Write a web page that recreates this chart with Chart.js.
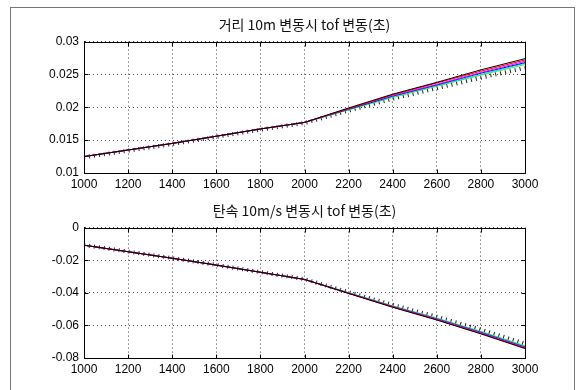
<!DOCTYPE html>
<html>
<head>
<meta charset="utf-8">
<script src="https://cdn.jsdelivr.net/npm/chart.js@4/dist/chart.umd.min.js"></script>
<style>
html,body{margin:0;padding:0;background:#fff;width:579px;height:390px;overflow:hidden;}
#frame{position:absolute;left:10px;top:7px;width:565px;height:500px;border:1px solid #777;box-sizing:border-box;}
.wrap{position:absolute;left:0;width:579px;height:195px;}
</style>
</head>
<body>
<div id="frame"></div>
<div class="wrap" style="top:0"><canvas id="c1" width="579" height="195"></canvas></div>
<div class="wrap" style="top:195px"><canvas id="c2" width="579" height="195"></canvas></div>
<script>
// ---- data ----
const xValues = [1000, 1200, 1400, 1600, 1800, 2000, 2200, 2400, 2600, 2800, 3000];

const title1 = '거리 10m 변동시 tof 변동(초)';
const title2 = '탄속 10m/s 변동시 tof 변동(초)';

// top chart: tof change for distance 10m
const dBlack   = [0.0125, 0.0135, 0.0145, 0.0156, 0.0167, 0.0177, 0.0199, 0.0220, 0.0238, 0.0257, 0.0274];
const dRed     = [0.0125, 0.0135, 0.0145, 0.0156, 0.0167, 0.0177, 0.0198, 0.0219, 0.0237, 0.0255, 0.0272];
const dMagenta = [0.0125, 0.0135, 0.0145, 0.0156, 0.0167, 0.0177, 0.0198, 0.0218, 0.0235, 0.0253, 0.0270];
const dBlue    = [0.0125, 0.0135, 0.0145, 0.0156, 0.0167, 0.0177, 0.0197, 0.0217, 0.0234, 0.0252, 0.0268];
const dCyan    = [0.0125, 0.0135, 0.0145, 0.0156, 0.0167, 0.0177, 0.0197, 0.0216, 0.0233, 0.0250, 0.0267];
const dGreen   = [0.0125, 0.0135, 0.0145, 0.0156, 0.0167, 0.0177, 0.0196, 0.0215, 0.0232, 0.0249, 0.0265];
const dTicked  = [0.0124, 0.0134, 0.0144, 0.0155, 0.0166, 0.0176, 0.0195, 0.0213, 0.0229, 0.0245, 0.0260];

// bottom chart: tof change for velocity 10m/s
const vBlack   = [-0.0108, -0.0148, -0.0188, -0.0230, -0.0274, -0.0318, -0.0404, -0.0489, -0.0567, -0.0652, -0.0742];
const vRed     = [-0.0108, -0.0148, -0.0188, -0.0230, -0.0274, -0.0318, -0.0403, -0.0487, -0.0565, -0.0649, -0.0739];
const vMagenta = [-0.0108, -0.0148, -0.0188, -0.0230, -0.0274, -0.0318, -0.0402, -0.0485, -0.0562, -0.0646, -0.0736];
const vBlue    = [-0.0108, -0.0148, -0.0188, -0.0230, -0.0274, -0.0318, -0.0401, -0.0484, -0.0560, -0.0643, -0.0733];
const vCyan    = [-0.0108, -0.0148, -0.0188, -0.0230, -0.0274, -0.0318, -0.0400, -0.0482, -0.0558, -0.0640, -0.0729];
const vGreen   = [-0.0108, -0.0148, -0.0188, -0.0230, -0.0274, -0.0318, -0.0399, -0.0480, -0.0555, -0.0637, -0.0725];
const vTicked  = [-0.0107, -0.0147, -0.0187, -0.0229, -0.0273, -0.0316, -0.0396, -0.0474, -0.0547, -0.0626, -0.0712];

const yTicks1 = [0.01, 0.015, 0.02, 0.025, 0.03];
const yTicks2 = [-0.08, -0.06, -0.04, -0.02, 0];

// ---- drawing ----
const lineColors = ['#000000', '#ff0000', '#ff00ff', '#0000ff', '#00e5e5', '#33ee33'];

function pts(arr) { return arr.map((v, i) => ({x: xValues[i], y: v})); }

const boxPlugin = {
  id: 'box',
  afterDraw(chart) {
    const a = chart.chartArea, ctx = chart.ctx;
    const L = Math.round(a.left) + 0.5, T = Math.round(a.top) + 0.5;
    const R = Math.round(a.right) + 0.5, B = Math.round(a.bottom) + 0.5;
    ctx.save();
    ctx.strokeStyle = '#000';
    ctx.lineWidth = 1;
    ctx.strokeRect(L, T, R - L, B - T);
    // inward tick marks (MATLAB style)
    const tl = 4;
    ctx.beginPath();
    chart.scales.x.ticks.forEach(t => {
      const px = Math.round(chart.scales.x.getPixelForValue(t.value)) + 0.5;
      ctx.moveTo(px, B); ctx.lineTo(px, B - tl);
      ctx.moveTo(px, T); ctx.lineTo(px, T + tl);
    });
    chart.scales.y.ticks.forEach(t => {
      const py = Math.round(chart.scales.y.getPixelForValue(t.value)) + 0.5;
      ctx.moveTo(L, py); ctx.lineTo(L + tl, py);
      ctx.moveTo(R, py); ctx.lineTo(R - tl, py);
    });
    ctx.stroke();
    ctx.restore();
  }
};

const tickFont = { family: '"Liberation Sans", Arial, sans-serif', size: 12 };

function makeChart(id, title, series, ticked, yTicks, xAxisHeight, titlePad) {
  const datasets = series.map((s, i) => ({
    data: pts(s), borderColor: lineColors[i], borderWidth: 1, pointRadius: 0, tension: 0
  }));
  datasets.push({
    data: pts(ticked), borderColor: '#222', borderWidth: 4, borderDash: [1, 4],
    borderCapStyle: 'butt', pointRadius: 0, tension: 0
  });
  return new Chart(document.getElementById(id), {
    type: 'line',
    data: { datasets },
    plugins: [boxPlugin],
    options: {
      responsive: false,
      animation: false,
      layout: { padding: { left: 30, right: 0, top: 0, bottom: 0 } },
      plugins: {
        legend: { display: false },
        tooltip: { enabled: false },
        title: {
          display: true, text: title, color: '#111',
          font: { family: '"Noto Sans CJK KR", sans-serif', size: 14, weight: 'normal', lineHeight: 1.2 },
          padding: titlePad
        }
      },
      scales: {
        x: {
          type: 'linear', min: xValues[0], max: xValues[xValues.length - 1],
          afterFit(s) { s.height = xAxisHeight; },
          ticks: { stepSize: 200, color: '#000', padding: 4, maxRotation: 0, font: tickFont,
                   callback: v => String(v) },
          grid: { color: '#444', lineWidth: 1, drawTicks: false },
          border: { display: true, color: '#000', dash: [1, 3] }
        },
        y: {
          type: 'linear', min: yTicks[0], max: yTicks[yTicks.length - 1],
          afterFit(s) { s.width = 54; },
          afterBuildTicks(s) { s.ticks = yTicks.map(v => ({value: v})); },
          ticks: { color: '#000', padding: 5, font: tickFont, callback: v => String(v) },
          grid: { color: '#444', lineWidth: 1, drawTicks: false },
          border: { display: true, color: '#000', dash: [1, 3] }
        },
        yRight: {
          type: 'linear', position: 'right', min: yTicks[0], max: yTicks[yTicks.length - 1],
          afterFit(s) { s.width = 54; },
          ticks: { display: false },
          grid: { display: false, drawTicks: false },
          border: { display: false }
        }
      }
    }
  });
}

makeChart('c1', title1, [dBlack, dRed, dMagenta, dBlue, dCyan, dGreen], dTicked, yTicks1, 22, {top: 16.6, bottom: 8.2});
makeChart('c2', title2, [vBlack, vRed, vMagenta, vBlue, vCyan, vGreen], vTicked, yTicks2, 32, {top: 7.6, bottom: 8.2});
</script>
</body>
</html>
